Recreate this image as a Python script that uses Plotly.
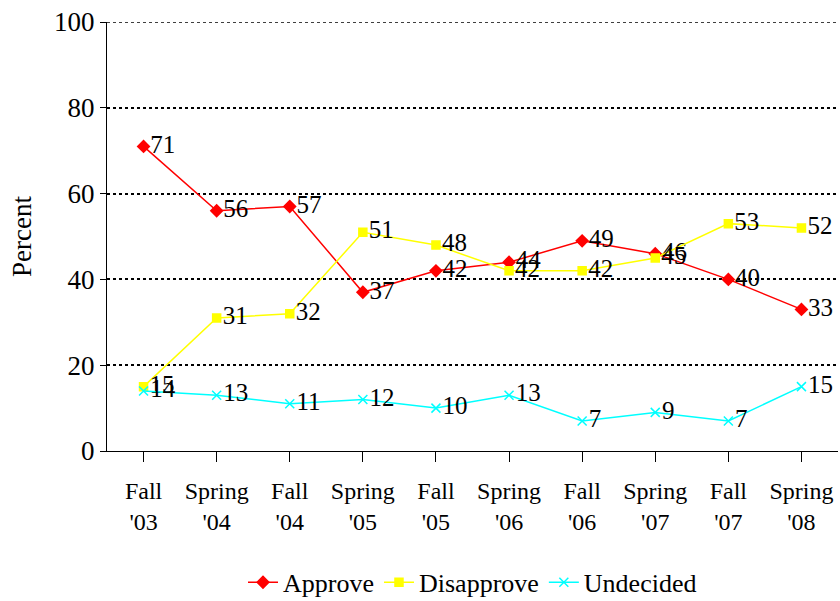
import plotly.graph_objects as go

categories = ["Fall<br>'03", "Spring<br>'04", "Fall<br>'04", "Spring<br>'05", "Fall<br>'05",
              "Spring<br>'06", "Fall<br>'06", "Spring<br>'07", "Fall<br>'07", "Spring<br>'08"]
approve = [71, 56, 57, 37, 42, 44, 49, 46, 40, 33]
disapprove = [15, 31, 32, 51, 48, 42, 42, 45, 53, 52]
undecided = [14, 13, 11, 12, 10, 13, 7, 9, 7, 15]
y_ticks = [0, 20, 40, 60, 80, 100]

FONT = "'Liberation Serif', 'Times New Roman', 'DejaVu Serif', serif"

fig = go.Figure()
series = [
    ("Approve", approve, "#FF0000", "diamond", 9),
    ("Disapprove", disapprove, "#FFFF00", "square", 8),
    ("Undecided", undecided, "#00FFFF", "x-thin", 9),
]
for name, vals, col, sym, sz in series:
    fig.add_trace(go.Scatter(
        x=list(range(len(categories))), y=vals, name=name,
        mode="lines+markers+text", text=[str(v) for v in vals],
        textposition="middle right", cliponaxis=False,
        textfont=dict(family=FONT, size=25, color="black"),
        line=dict(color=col, width=1.5),
        marker=dict(color=col, symbol=sym, size=sz,
                    line=dict(color=col, width=1.5)),
    ))

fig.add_shape(type="line", xref="paper", yref="y", x0=0, x1=1, y0=100, y1=100,
              line=dict(color="black", width=1.5, dash="dot"), layer="below")

fig.update_layout(
    width=840, height=601,
    margin=dict(l=107, r=2, t=22, b=150),
    plot_bgcolor="white", paper_bgcolor="white",
    font=dict(family=FONT, size=22, color="black"),
    showlegend=True,
    legend=dict(orientation="h", x=0.5, xanchor="center",
                yref="container", y=0.031, yanchor="middle",
                font=dict(family=FONT, size=26),
                traceorder="normal"),
    xaxis=dict(
        range=[-0.5, 9.5], tickmode="array",
        tickvals=list(range(len(categories))), ticktext=categories,
        showgrid=False, zeroline=False, automargin=False,
        showline=True, linecolor="black", linewidth=1,
        ticks="outside", ticklen=10, tickcolor="black", tickson="boundaries",
        ticklabelstandoff=8,
        tickfont=dict(family=FONT, size=24),
    ),
    yaxis=dict(
        range=[0, 100], tickvals=y_ticks, automargin=False,
        showgrid=True, gridcolor="black", griddash="dot", gridwidth=1.5,
        zeroline=False, showline=True, linecolor="black", linewidth=1,
        ticks="outside", ticklen=6, tickcolor="black",
        tickfont=dict(family=FONT, size=27),
        title=dict(text="Percent", font=dict(family=FONT, size=27), standoff=14),
    ),
)

post = (
    "document.body.style.margin='0';"
    "var st=document.createElement('style');"
    "st.textContent=\".js-plotly-plot text{font-family:'Liberation Serif','Times New Roman',serif !important;}\";"
    "document.head.appendChild(st);"
)
fig.write_html("out.html", config={"displayModeBar": False}, post_script=post)
